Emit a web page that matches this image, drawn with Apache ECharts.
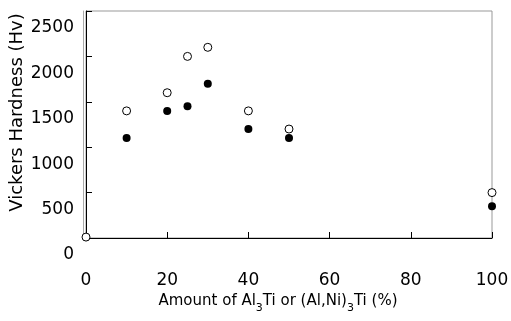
<!DOCTYPE html>
<html><head><meta charset="utf-8">
<script src="https://cdn.jsdelivr.net/npm/echarts@6/dist/echarts.min.js"></script>
<style>html,body{margin:0;padding:0;background:#fff}#c{width:511px;height:321px}</style>
</head><body><div id="c"></div>
<script>
var amountPct = [0, 10, 20, 25, 30, 40, 50, 100];
var hardnessOpen = [10, 1400, 1600, 2000, 2100, 1400, 1200, 500];
var hardnessFilled = [null, 1100, 1400, 1450, 1700, 1200, 1100, 350];
var xTicks = [0, 20, 40, 60, 80, 100];
var yTicks = [0, 500, 1000, 1500, 2000, 2500];

function pairs(xs, ys){ var o=[]; for(var i=0;i<xs.length;i++){ if(ys[i]!==null) o.push([xs[i], ys[i]]); } return o; }
var FONT = 'DejaVu Sans';
var chart = echarts.init(document.getElementById('c'));
chart.setOption({
  animation:false,
  grid:{left:86,right:19,top:11,bottom:83,show:true,borderColor:'#999',borderWidth:1,
        containLabel:false,outerBoundsMode:'none'},
  xAxis:{type:'value',min:xTicks[0],max:xTicks[xTicks.length-1],interval:20,
    axisLine:{lineStyle:{color:'#000',width:1}},
    axisTick:{inside:true,length:6,lineStyle:{color:'#000'}},
    splitLine:{show:false},
    axisLabel:{color:'#000',fontFamily:FONT,fontSize:17,margin:34,formatter:function(v){return String(v);}},
    name:'Amount of Al{s|3}Ti or (Al,Ni){s|3}Ti (%)',nameLocation:'middle',nameGap:51,nameMoveOverlap:false,
    nameTextStyle:{color:'#000',fontFamily:FONT,fontSize:15,padding:[0,22,0,0],
      rich:{s:{fontFamily:FONT,fontSize:11,padding:[14,0,0,0],color:'#000'}}}
  },
  yAxis:[{type:'value',min:yTicks[0],max:yTicks[yTicks.length-1],interval:500,
    axisLine:{lineStyle:{color:'#000',width:1}},
    axisTick:{inside:true,length:6,lineStyle:{color:'#000'}},
    splitLine:{show:false},
    axisLabel:{color:'#000',fontFamily:FONT,fontSize:17,margin:12,
      formatter:function(v){return '{a|'+v+'}';},
      rich:{a:{fontFamily:FONT,fontSize:17,color:'#000',padding:[34,0,0,0]}}},
    name:'Vickers Hardness (Hv)',nameLocation:'middle',nameGap:60,nameRotate:90,nameMoveOverlap:false,
    nameTextStyle:{color:'#000',fontFamily:FONT,fontSize:18,padding:[0,0,0,24]}
  },{type:'value',position:'left',offset:3,min:yTicks[0],max:yTicks[yTicks.length-1],interval:500,
    axisLine:{show:true,lineStyle:{color:'#aaa',width:1}},axisTick:{show:false},
    axisLabel:{show:false},splitLine:{show:false}}],
  series:[
    {type:'scatter',data:pairs(amountPct,hardnessOpen),symbol:'circle',symbolSize:8,
     itemStyle:{color:'#fff',borderColor:'#000',borderWidth:1,opacity:1},z:3},
    {type:'scatter',data:pairs(amountPct,hardnessFilled),symbol:'circle',symbolSize:8,
     itemStyle:{color:'#000',opacity:1},z:4}
  ]
});
</script></body></html>
